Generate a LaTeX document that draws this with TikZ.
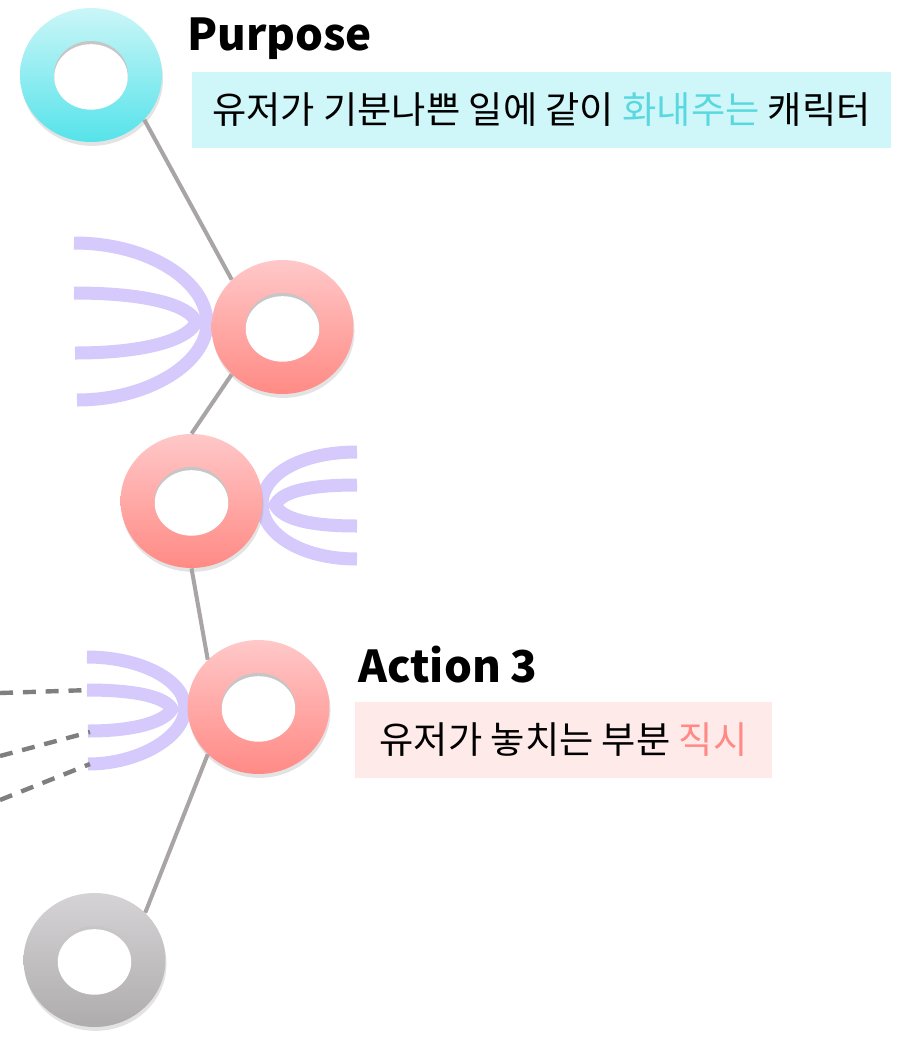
\documentclass[tikz,border=0pt]{standalone}
\usepackage{fontspec}
\setmainfont{Noto Sans CJK KR}
\usepackage{tikz}
\usetikzlibrary{shapes.geometric, shadows, positioning}

\definecolor{RingCyanTop}{HTML}{CBF6F8}
\definecolor{RingCyanBot}{HTML}{55E3EA}
\definecolor{RingRedTop}{HTML}{FFC8C8}
\definecolor{RingRedBot}{HTML}{FF8A85}
\definecolor{RingGreyTop}{HTML}{D5D3D5}
\definecolor{RingGreyBot}{HTML}{AEACAC}
\definecolor{FanPurple}{HTML}{D5CAFB}
\definecolor{LinkGrey}{HTML}{A9A5A5}
\definecolor{DashGrey}{HTML}{7F7F7F}
\definecolor{BoxCyan}{HTML}{CFF7F9}
\definecolor{BoxPink}{HTML}{FFEAEA}
\definecolor{TextCyan}{HTML}{5AD8E0}
\definecolor{TextRed}{HTML}{FF8A85}

\begin{document}
\begin{tikzpicture}[
    x=0.02cm, y=-0.02cm,
    ring/.style={ellipse, minimum width=2.84cm, minimum height=2.68cm,
                 inner sep=0pt, shading=axis, shading angle=0,
                 drop shadow={opacity=0.22, shadow xshift=0.6pt, shadow yshift=-2.2pt}},
    cyanring/.style={ring, top color=RingCyanTop, bottom color=RingCyanBot},
    redring/.style={ring, top color=RingRedTop, bottom color=RingRedBot},
    greyring/.style={ring, top color=RingGreyTop, bottom color=RingGreyBot},
    hole/.style={ellipse, minimum width=1.48cm, minimum height=1.36cm,
                 inner sep=0pt, fill=gray!45},
    holelight/.style={ellipse, minimum width=1.47cm, minimum height=1.31cm,
                      inner sep=0pt, fill=white, yshift=-1.1pt},
    fan/.style={FanPurple, line width=7.4pt},
    link/.style={LinkGrey, line width=2.3pt},
    dashlink/.style={DashGrey, line width=2.5pt, dash pattern=on 7.4pt off 5.6pt},
    title/.style={font=\fontsize{25}{28}\selectfont\bfseries, anchor=base west, inner sep=0pt},
    note/.style={font=\fontsize{21.2}{24}\selectfont, inner sep=0pt, anchor=center}
]
\useasboundingbox (0,0) rectangle (897,1038);

% fans
\draw[fan] (74,243) .. controls (150,243) and (207,282) .. (207,323)
                    .. controls (207,362) and (150,400) .. (77,400);
\draw[fan] (74,293) .. controls (150,293) and (190,306) .. (196,322)
                    .. controls (190,338) and (150,353) .. (75,353);
\draw[fan] (357,452) .. controls (300,452) and (262,475) .. (262,504)
                     .. controls (262,533) and (300,559) .. (357,559);
\draw[fan] (357,485) .. controls (300,485) and (281,494) .. (275,505)
                     .. controls (281,516) and (300,526) .. (357,526);
\draw[fan] (87,657) .. controls (140,657) and (185,680) .. (185,708)
                   .. controls (185,736) and (140,764) .. (88,764);
\draw[fan] (87,690) .. controls (140,690) and (166,698) .. (172,709)
                   .. controls (166,720) and (140,731) .. (88,731);

% rings
\node[cyanring] (purpose) at (91,75) {};
\node[redring]  (act1) at (282.5,327) {};
\node[redring]  (act2) at (191.5,501) {};
\node[redring]  (act3) at (258.5,707) {};
\node[greyring] (last) at (94.5,960) {};
\foreach \r in {purpose, act1, act2, act3, last} {
  \node[hole] at (\r) {};
  \node[holelight] at (\r) {};
}

% links
\draw[link] (purpose.-40) -- (act1.137);
\draw[link] (act1.223) -- (act2.90);
\draw[link] (act2.-90) -- (act3.137);
\draw[link] (act3.223) -- (last.43);

% dashed leads into action 3
\coordinate (d1) at (0,693);
\coordinate (d2) at (0,756);
\coordinate (d3) at (0,800);
\coordinate (e1) at (90,690);
\coordinate (e2) at (90,732);
\coordinate (e3) at (90,764);
\draw[dashlink] (d1) -- (e1);
\draw[dashlink] (d2) -- (e2);
\draw[dashlink] (d3) -- (e3);

% labels
\node[title] (ptitle) at (187,50) {Purpose};
\node[fill=BoxCyan, minimum width=13.98cm, minimum height=1.52cm, inner sep=0pt]
  (pbox) at (541.5,110) {};
\node[note] (ptext) at (pbox) {유저가 기분나쁜 일에 같이 \textcolor{TextCyan}{화내주는} 캐릭터};

\node[title] (atitle) at (358,682) {Action 3};
\node[fill=BoxPink, minimum width=8.34cm, minimum height=1.52cm, inner sep=0pt]
  (abox) at (563.5,740) {};
\node[note] (atext) at (abox) {유저가 놓치는 부분 \textcolor{TextRed}{직시}};
\end{tikzpicture}
\end{document}
